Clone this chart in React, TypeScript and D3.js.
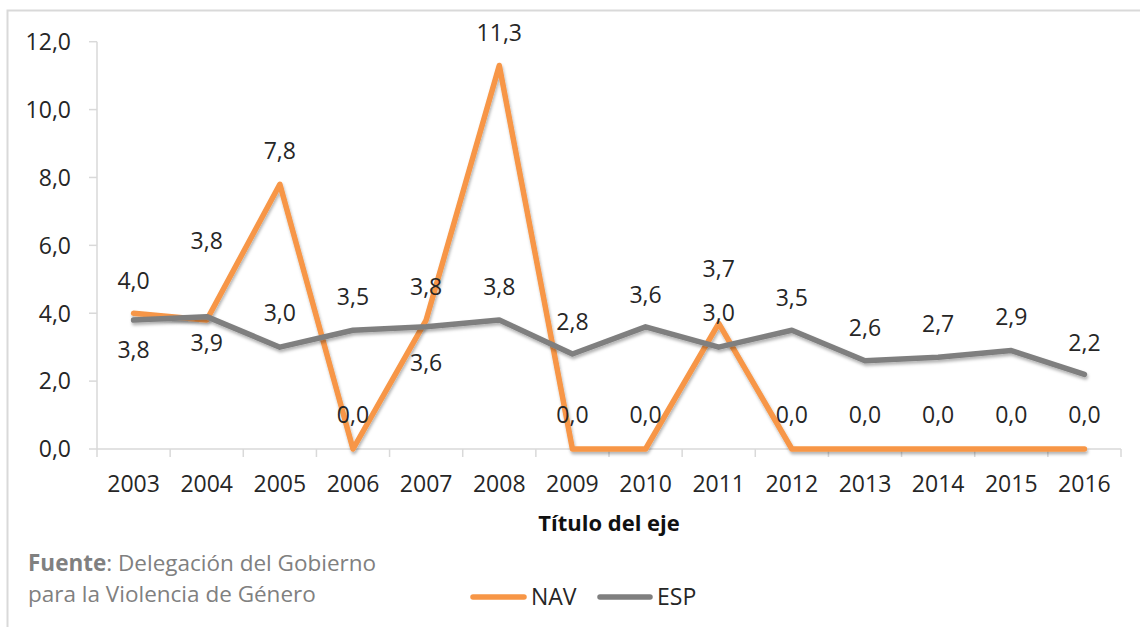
import React from "react";
import * as d3 from "d3";

const years = ["2003","2004","2005","2006","2007","2008","2009","2010","2011","2012","2013","2014","2015","2016"];
const navValues = [4.0, 3.8, 7.8, 0.0, 3.8, 11.3, 0.0, 0.0, 3.7, 0.0, 0.0, 0.0, 0.0, 0.0];
const espValues = [3.8, 3.9, 3.0, 3.5, 3.6, 3.8, 2.8, 3.6, 3.0, 3.5, 2.6, 2.7, 2.9, 2.2];
const yTicks = [0, 2, 4, 6, 8, 10, 12];
// label placement offsets (px) relative to the point, as in the original
const navLabelDy = [-33, -79, -34, -34, -33, -33, -34, -34, -55, -34, -34, -34, -34, -34];
const espLabelDy = [30, 26, -34, -34, 36, -33, -32, -32, -34, -33, -33, -34, -34, -32];

const NAV_COLOR = "#f79646";
const ESP_COLOR = "#7f7f7f";
const FONT = "'Open Sans', sans-serif";
const fmt = (v: number) => v.toFixed(1).replace(".", ",");

export default function App() {
  const W = 1140, H = 627;
  const x = d3.scaleBand<string>().domain(years).range([97, 1121]).paddingInner(0).paddingOuter(0);
  const y = d3.scaleLinear().domain([0, 12]).range([449, 41.7]);
  const cx = (d: string) => (x(d) as number) + x.bandwidth() / 2;
  const line = d3.line<number>().x((_, i) => cx(years[i])).y((v) => y(v));

  const series = [
    { name: "NAV", values: navValues, color: NAV_COLOR, dy: navLabelDy },
    { name: "ESP", values: espValues, color: ESP_COLOR, dy: espLabelDy },
  ];

  return (
    <svg width={W} height={H} style={{ position: "absolute", left: 0, top: 0, background: "#fff" }} fontFamily={FONT}>
      <defs>
        <filter id="shadow" x="-10%" y="-10%" width="120%" height="130%">
          <feDropShadow dx="1" dy="2.5" stdDeviation="1.6" floodColor="#000" floodOpacity="0.3" />
        </filter>
      </defs>
      <rect x={0} y={0} width={W} height={H} fill="#fff" />
      {/* chart frame */}
      <path d={`M7.5,${H + 5} V10.5 H${W + 5}`} fill="none" stroke="#d9d9d9" strokeWidth={2} />

      {/* y axis */}
      <line x1={97} x2={97} y1={y(12)} y2={y(0)} stroke="#d9d9d9" strokeWidth={1.5} />
      {yTicks.map((t) => (
        <g key={t}>
          <line x1={89} x2={97} y1={y(t)} y2={y(t)} stroke="#d9d9d9" strokeWidth={1.5} />
          <text x={71} y={y(t) + 8.3} textAnchor="end" fontSize={23} fill="#262626">{fmt(t)}</text>
        </g>
      ))}

      {/* x axis */}
      <line x1={97} x2={1121} y1={y(0)} y2={y(0)} stroke="#d9d9d9" strokeWidth={1.5} />
      {years.map((yr) => (
        <line key={"t" + yr} x1={x(yr) as number} x2={x(yr) as number} y1={y(0)} y2={y(0) + 8} stroke="#d9d9d9" strokeWidth={1.5} />
      ))}
      <line x1={1121} x2={1121} y1={y(0)} y2={y(0) + 8} stroke="#d9d9d9" strokeWidth={1.5} />
      {years.map((yr) => (
        <text key={"l" + yr} x={cx(yr)} y={492} textAnchor="middle" fontSize={23} fill="#262626">{yr}</text>
      ))}
      <text x={609} y={531} textAnchor="middle" fontSize={22} fontWeight="bold" fill="#111">Título del eje</text>

      {/* series lines */}
      {series.map((s) => (
        <path key={s.name} d={line(s.values) as string} fill="none" stroke={s.color} strokeWidth={5.5}
          strokeLinejoin="round" strokeLinecap="round" filter="url(#shadow)" />
      ))}

      {/* data labels */}
      {series.map((s) =>
        s.values.map((v, i) => (
          <text key={s.name + i} x={cx(years[i])} y={y(v) + s.dy[i] + 8.3} textAnchor="middle" fontSize={23} fill="#262626">{fmt(v)}</text>
        ))
      )}

      {/* source */}
      <text x={28} y={571} fontSize={22.5} fill="#808080">
        <tspan fontWeight="bold">Fuente</tspan>: Delegación del Gobierno
      </text>
      <text x={28} y={602} fontSize={22.5} fill="#808080">para la Violencia de Género</text>

      {/* legend */}
      <line x1={473} x2={524} y1={597} y2={597} stroke={NAV_COLOR} strokeWidth={5.5} strokeLinecap="round" />
      <text x={531} y={605} fontSize={23} fill="#262626">NAV</text>
      <line x1={600} x2={650} y1={597} y2={597} stroke={ESP_COLOR} strokeWidth={5.5} strokeLinecap="round" />
      <text x={657} y={605} fontSize={23} fill="#262626">ESP</text>
    </svg>
  );
}
